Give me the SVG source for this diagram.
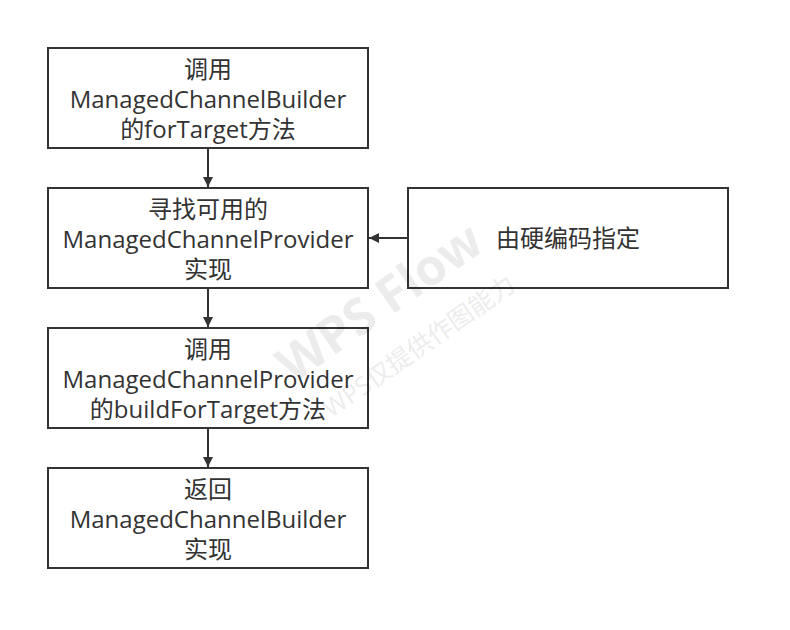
<svg xmlns="http://www.w3.org/2000/svg" width="790" height="630" viewBox="0 0 790 630">
<style>
.box{fill:#fff;stroke:#333;stroke-width:2}
.t{font-family:"Open Sans","Noto Sans CJK SC",sans-serif;font-size:24px;fill:#333;text-anchor:middle}
.c{stroke:#333;stroke-width:2;fill:none}
.wm{font-family:"Open Sans","Noto Sans CJK SC",sans-serif;fill:#000;opacity:0.07;text-anchor:middle}
</style>
<defs>
<marker id="ah" viewBox="0 0 10 10" refX="10" refY="5" markerWidth="5" markerHeight="5" orient="auto" markerUnits="strokeWidth">
<path d="M0,0 L10,5 L0,10 z" fill="#333"/>
</marker>
</defs>
<rect width="790" height="630" fill="#fff"/>
<g id="n1"><rect class="box" x="48" y="48" width="320" height="100"/>
<text class="t" x="208" y="78">调用</text>
<text class="t" x="208" y="108">ManagedChannelBuilder</text>
<text class="t" x="208" y="138">的forTarget方法</text></g>
<g id="n2"><rect class="box" x="48" y="188" width="320" height="100"/>
<text class="t" x="208" y="218">寻找可用的</text>
<text class="t" x="208" y="248">ManagedChannelProvider</text>
<text class="t" x="208" y="278">实现</text></g>
<g id="n3"><rect class="box" x="48" y="328" width="320" height="100"/>
<text class="t" x="208" y="358">调用</text>
<text class="t" x="208" y="388">ManagedChannelProvider</text>
<text class="t" x="208" y="418">的buildForTarget方法</text></g>
<g id="n4"><rect class="box" x="48" y="468" width="320" height="100"/>
<text class="t" x="208" y="498">返回</text>
<text class="t" x="208" y="528">ManagedChannelBuilder</text>
<text class="t" x="208" y="558">实现</text></g>
<g id="n5"><rect class="box" x="408" y="188" width="320" height="100"/>
<text class="t" x="568" y="247">由硬编码指定</text></g>
<g id="connectors">
<line class="c" x1="208" y1="148" x2="208" y2="187" marker-end="url(#ah)"/>
<line class="c" x1="208" y1="288" x2="208" y2="327" marker-end="url(#ah)"/>
<line class="c" x1="208" y1="428" x2="208" y2="467" marker-end="url(#ah)"/>
<line class="c" x1="408" y1="238" x2="369" y2="238" marker-end="url(#ah)"/>
</g>
<g id="watermark" transform="rotate(-35 385 310)">
<text class="wm" x="385" y="318" font-size="50" font-weight="bold">WPS Flow</text>
<text class="wm" x="392" y="368" font-size="25">WPS仅提供作图能力</text>
</g>
</svg>
